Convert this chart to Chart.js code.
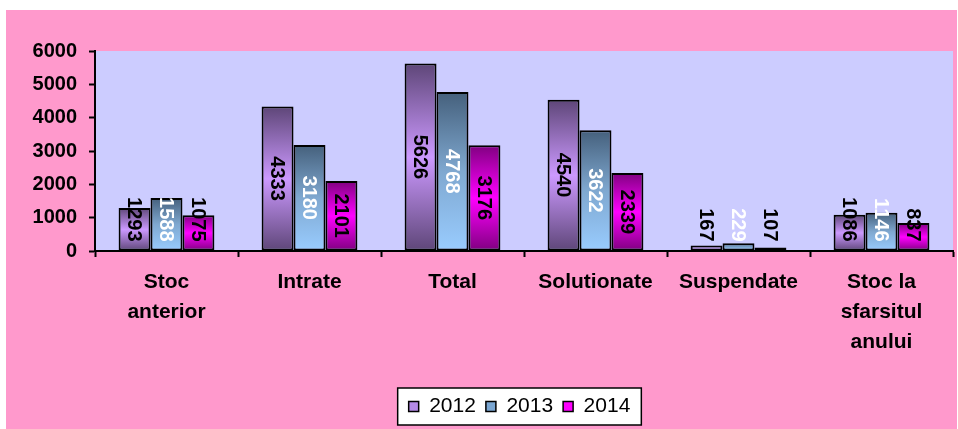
<!DOCTYPE html>
<html>
<head>
<meta charset="utf-8">
<script src="https://cdn.jsdelivr.net/npm/chart.js@4/dist/chart.umd.min.js"></script>
<style>
  html, body { margin: 0; padding: 0; background: #ffffff; overflow: hidden; }
  #wrap { width: 958px; height: 429px; position: relative; }
</style>
</head>
<body>
<div id="wrap"><canvas id="chart" width="958" height="429"></canvas></div>
<script>
'use strict';

// ---- data ----
const categories = [['Stoc', 'anterior'], 'Intrate', 'Total', 'Solutionate', 'Suspendate', ['Stoc la', 'sfarsitul', 'anului']];
const years = ['2012', '2013', '2014'];
const values2012 = [1293, 4333, 5626, 4540, 167, 1086];
const values2013 = [1588, 3180, 4768, 3622, 229, 1146];
const values2014 = [1075, 2101, 3176, 2339, 107, 837];
const yTicks = [0, 1000, 2000, 3000, 4000, 5000, 6000];

const FONT = 'Arial, "Liberation Sans", sans-serif';

// gradient stops per series (top -> bottom of each bar)
const gradStops = [
    ['#5e4678', '#cc99ff', '#5e4678'],
    ['#45607c', '#7fa8d0', '#99ccff'],
    ['#800080', '#ff00ff', '#800080'],
];
const legendFill = ['#b48ae6', '#7aa6d2', '#ff00ff'];
const labelColors = ['#000000', '#ffffff', '#000000'];

function barGradient(series) {
    return (context) => {
        const chart = context.chart;
        if (!chart.chartArea || context.type !== 'data') return gradStops[series][1];
        const y = chart.scales.y;
        const top = y.getPixelForValue(context.raw);
        const base = y.getPixelForValue(0);
        if (!isFinite(top) || base - top < 1) return gradStops[series][1];
        const g = chart.ctx.createLinearGradient(0, top, 0, base);
        g.addColorStop(0, gradStops[series][0]);
        g.addColorStop(0.5, gradStops[series][1]);
        g.addColorStop(1, gradStops[series][2]);
        return g;
    };
}

// legend sits a bit right of the centre in the original
const LEGEND_SHIFT = 43;

// backgrounds: white frame, pink chart area, lavender plot, legend box
const backgroundPlugin = {
    id: 'backgrounds',
    afterLayout(chart) {
        const lg = chart.legend;
        if (lg) { lg._baseLeft = lg.left; lg._baseRight = lg.right; }
    },
    beforeDraw(chart) {
        const ctx = chart.ctx;
        const a = chart.chartArea;
        const lg = chart.legend;
        let shift = 0;
        if (lg && lg._baseLeft !== undefined) {
            // hit boxes were laid out from the base position, so offset them by hand
            lg.left = lg._baseLeft + LEGEND_SHIFT;
            lg.right = lg._baseRight + LEGEND_SHIFT;
            shift = LEGEND_SHIFT;
        }
        ctx.save();
        ctx.fillStyle = '#ffffff';
        ctx.fillRect(0, 0, chart.width, chart.height);
        ctx.fillStyle = '#ff99cc';
        ctx.fillRect(6, 10, chart.width - 7, chart.height - 10);
        ctx.fillStyle = '#ccccff';
        ctx.fillRect(a.left, a.top, a.right - a.left, a.bottom - a.top);

        const boxes = lg && lg.legendHitBoxes;
        if (boxes && boxes.length) {
            const l = Math.min(...boxes.map(b => b.left)) - 11 + shift;
            const r = Math.max(...boxes.map(b => b.left + b.width)) + 11 + shift;
            const t = Math.min(...boxes.map(b => b.top)) - 8;
            const btm = Math.max(...boxes.map(b => b.top + b.height)) + 8;
            ctx.fillStyle = '#ffffff';
            ctx.fillRect(l, t, r - l, btm - t);
            ctx.strokeStyle = '#000000';
            ctx.lineWidth = 1.5;
            ctx.strokeRect(l, t, r - l, btm - t);
        }
        ctx.restore();
    }
};

// rotated value labels inside the bars
const valueLabelPlugin = {
    id: 'valueLabels',
    afterDatasetsDraw(chart) {
        const ctx = chart.ctx;
        ctx.save();
        ctx.font = 'bold 20px ' + FONT;
        ctx.textAlign = 'center';
        ctx.textBaseline = 'middle';
        chart.data.datasets.forEach((ds, i) => {
            const meta = chart.getDatasetMeta(i);
            meta.data.forEach((bar, j) => {
                const text = String(ds.data[j]);
                const w = ctx.measureText(text).width;
                let cy = (bar.y + bar.base) / 2;
                cy = Math.min(cy, bar.base - 9 - w / 2);
                ctx.save();
                ctx.translate(bar.x, cy);
                ctx.rotate(Math.PI / 2);
                ctx.fillStyle = labelColors[i];
                ctx.fillText(text, 0, 1);
                ctx.restore();
            });
        });
        ctx.restore();
    }
};

const seriesValues = [values2012, values2013, values2014];
const datasets = years.map((year, i) => ({
    label: year,
    data: seriesValues[i],
    backgroundColor: barGradient(i),
    borderColor: '#000000',
    borderWidth: 2,
    borderSkipped: false,
    categoryPercentage: 0.67,
    barPercentage: 1.0,
}));

const chart = new Chart(document.getElementById('chart'), {
    type: 'bar',
    data: { labels: categories, datasets: datasets },
    options: {
        responsive: false,
        animation: false,
        devicePixelRatio: 1,
        layout: { padding: { top: 51, right: 5, left: 0, bottom: 2 } },
        plugins: {
            tooltip: { enabled: false },
            legend: {
                position: 'bottom',
                labels: {
                    boxWidth: 10,
                    boxHeight: 10,
                    padding: 10,
                    color: '#000000',
                    font: { family: FONT, size: 21 },
                    generateLabels: (c) => c.data.datasets.map((ds, i) => ({
                        text: ds.label,
                        fillStyle: legendFill[i],
                        strokeStyle: '#000000',
                        lineWidth: 1.5,
                        datasetIndex: i,
                        hidden: false,
                    })),
                },
            },
        },
        scales: {
            x: {
                grid: {
                    offset: true,
                    drawOnChartArea: false,
                    tickLength: 6,
                    tickColor: '#000000',
                    tickWidth: 2,
                },
                border: { color: '#000000', width: 2 },
                ticks: {
                    maxRotation: 0,
                    autoSkip: false,
                    padding: 10,
                    color: '#000000',
                    font: { family: FONT, size: 21, weight: 'bold', lineHeight: 1.43 },
                },
                afterFit: (scale) => { scale.height = 135; },
            },
            y: {
                min: 0,
                max: 6000,
                afterBuildTicks: (scale) => { scale.ticks = yTicks.map(v => ({ value: v })); },
                grid: {
                    drawOnChartArea: false,
                    tickLength: 6,
                    tickColor: '#000000',
                    tickWidth: 2,
                },
                border: { color: '#000000', width: 2 },
                ticks: {
                    padding: 12,
                    color: '#000000',
                    font: { family: FONT, size: 20, weight: 'bold' },
                    callback: (value) => String(value),
                },
                afterFit: (scale) => { scale.width = 95; },
            },
        },
    },
    plugins: [backgroundPlugin, valueLabelPlugin],
});
</script>
</body>
</html>
